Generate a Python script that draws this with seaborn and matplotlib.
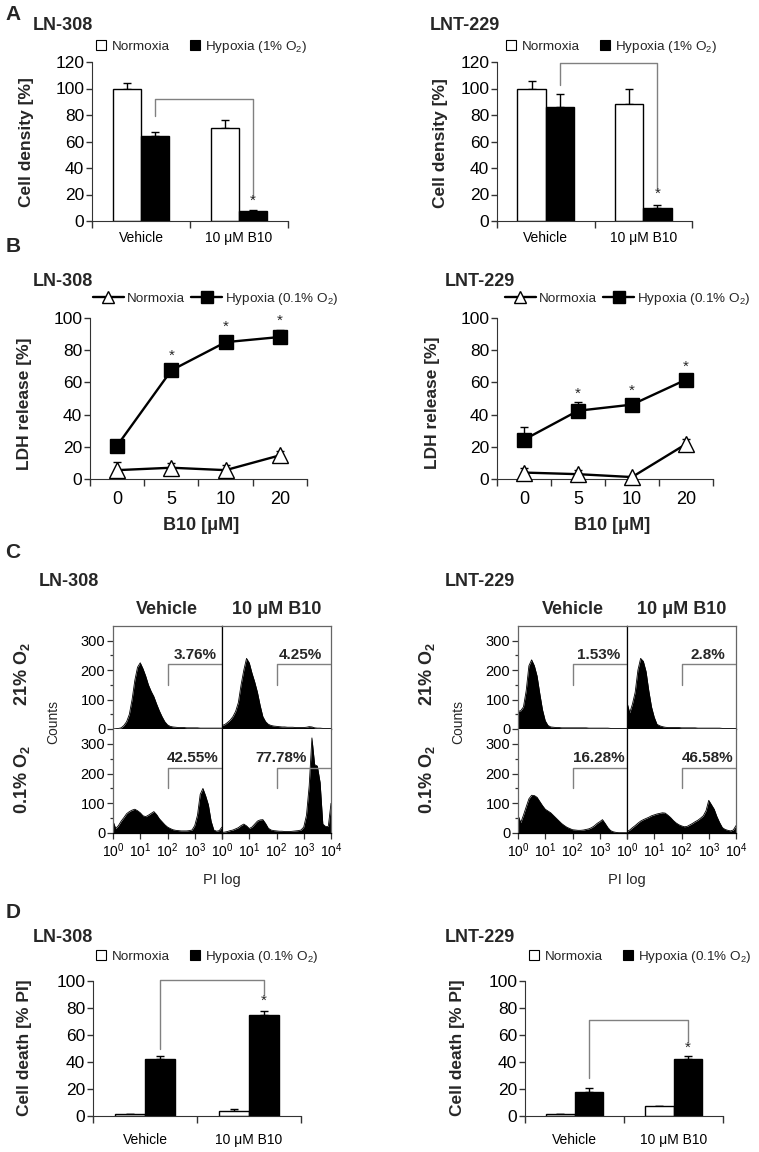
import numpy as np
import pandas as pd
import matplotlib
matplotlib.use('Agg')
import matplotlib.pyplot as plt
import seaborn as sns
from matplotlib.lines import Line2D

sns.set_style('ticks')
plt.rcParams['font.family'] = ['Liberation Sans', 'DejaVu Sans']
plt.rcParams['mathtext.default'] = 'regular'
plt.rcParams['axes.edgecolor'] = '#333333'
plt.rcParams['xtick.color'] = '#333333'
plt.rcParams['ytick.color'] = '#333333'
plt.rcParams['xtick.labelcolor'] = 'black'
plt.rcParams['ytick.labelcolor'] = 'black'

# ---------------- data ----------------
treatments = ['Vehicle', '10 μM B10']
conditions = ['Normoxia', 'Hypoxia']

# Panel A: cell density [%]
a_ln308_norm = [100, 70.5]
a_ln308_norm_err = [4, 6]
a_ln308_hyp = [64.5, 7.5]
a_ln308_hyp_err = [3, 1]
a_lnt229_norm = [100, 88]
a_lnt229_norm_err = [6, 12]
a_lnt229_hyp = [86, 10]
a_lnt229_hyp_err = [10, 2]

# Panel B: LDH release [%]
b10_doses = ['0', '5', '10', '20']
b_ln308_norm = [5.5, 7, 5.5, 14.7]
b_ln308_norm_err = [5, 2.7, 3, 2.5]
b_ln308_hyp = [20.7, 67.5, 85, 88.2]
b_ln308_hyp_err = [3, 1, 4, 4.5]
b_lnt229_norm = [4, 3, 1.2, 21.7]
b_lnt229_norm_err = [3, 2.7, 0.5, 3]
b_lnt229_hyp = [24.4, 42.4, 46.2, 61.7]
b_lnt229_hyp_err = [8, 5.4, 3, 2]

# Panel C: PI flow cytometry histograms (counts per log-PI channel, 10^0..10^4)
pi_log_channels = [i / 10 for i in range(41)]
c_ln308_veh_21 = [0, 1, 2, 4, 12, 25, 50, 100, 165, 210, 225, 205, 180, 150, 128, 110, 85, 62, 42, 25,
                  14, 9, 7, 6, 5, 5, 5, 4, 4, 4, 4, 4, 3, 3, 3, 3, 3, 3, 3, 3, 3]
c_ln308_b10_21 = [12, 15, 22, 30, 42, 60, 90, 150, 200, 240, 225, 190, 160, 125, 80, 42, 25, 16, 12, 10,
                  9, 8, 7, 7, 6, 6, 6, 5, 5, 5, 5, 6, 8, 7, 4, 3, 3, 2, 2, 2, 2]
c_ln308_veh_01 = [40, 15, 25, 40, 52, 65, 72, 77, 80, 75, 68, 58, 55, 60, 66, 72, 62, 48, 38, 28,
                  20, 15, 11, 9, 8, 7, 7, 7, 8, 10, 25, 60, 130, 150, 125, 95, 40, 10, 6, 8, 20]
c_ln308_b10_01 = [2, 3, 5, 8, 10, 14, 18, 25, 30, 24, 15, 20, 30, 40, 44, 45, 32, 16, 10, 8,
                  7, 6, 6, 5, 5, 5, 6, 7, 8, 10, 20, 60, 160, 320, 230, 225, 170, 30, 22, 22, 100]
c_lnt229_veh_21 = [60, 62, 75, 130, 215, 235, 215, 180, 120, 65, 28, 12, 7, 6, 5, 5, 4, 4, 4, 4,
                   4, 4, 4, 4, 4, 4, 3, 3, 3, 3, 3, 3, 3, 3, 2, 2, 2, 2, 2, 2, 2]
c_lnt229_b10_21 = [90, 55, 85, 125, 200, 240, 230, 195, 130, 75, 40, 16, 11, 8, 6, 5, 5, 5, 5, 5,
                   4, 4, 4, 4, 4, 4, 3, 3, 3, 3, 3, 3, 3, 3, 3, 2, 2, 2, 2, 2, 2]
c_lnt229_veh_01 = [60, 35, 60, 88, 115, 127, 126, 120, 106, 92, 80, 74, 68, 59, 50, 41, 32, 25, 19, 15,
                   11, 10, 9, 9, 10, 12, 14, 18, 24, 32, 38, 45, 32, 18, 8, 4, 2, 1, 1, 1, 1]
c_lnt229_b10_01 = [5, 10, 18, 25, 33, 40, 45, 49, 53, 58, 61, 64, 66, 68, 67, 60, 52, 42, 34, 28,
                   24, 21, 22, 27, 32, 38, 43, 50, 58, 75, 110, 95, 80, 55, 35, 18, 12, 9, 7, 10, 25]
c_ln308_pct = ['3.76%', '4.25%', '42.55%', '77.78%']
c_lnt229_pct = ['1.53%', '2.8%', '16.28%', '46.58%']

# Panel D: cell death [% PI]
d_ln308_norm = [1.5, 3.7]
d_ln308_norm_err = [0.3, 1.2]
d_ln308_hyp = [41.9, 75.1]
d_ln308_hyp_err = [2.2, 2.5]
d_lnt229_norm = [1.2, 7.4]
d_lnt229_norm_err = [0.4, 0]
d_lnt229_hyp = [18, 42.1]
d_lnt229_hyp_err = [2.4, 2.5]

# ---------------- helpers ----------------
W, H = 759, 1152
fig = plt.figure(figsize=(W / 100, H / 100), dpi=100)


def add_ax(l, t, r, b):
    return fig.add_axes([l / W, 1 - b / H, (r - l) / W, (b - t) / H])


def ftext(x, y, s, **kw):
    fig.text(x / W, 1 - y / H, s, **kw)


OFF = 0.145
BRACKET_C = '#808080'


def bar_panel(ax, norm, norm_err, hyp, hyp_err, ymax, ystep, bracket, star_y,
              ytick_size=12.5, xtick_pad=7):
    df = pd.DataFrame({'treatment': treatments * 2,
                       'condition': ['Normoxia'] * 2 + ['Hypoxia'] * 2,
                       'value': norm + hyp})
    sns.barplot(data=df, x='treatment', y='value', hue='condition', order=treatments,
                hue_order=conditions, palette={'Normoxia': 'white', 'Hypoxia': 'black'},
                edgecolor='black', linewidth=1, width=0.58, errorbar=None, legend=False,
                ax=ax, zorder=2)
    xs_n = [i - OFF for i in range(2)]
    xs_h = [i + OFF for i in range(2)]
    ax.errorbar(xs_n, norm, yerr=[[0, 0], norm_err], fmt='none', ecolor='black',
                elinewidth=1, capsize=3.2, capthick=1, zorder=1)
    ax.errorbar(xs_h, hyp, yerr=[[0, 0], hyp_err], fmt='none', ecolor='black',
                elinewidth=1, capsize=3.2, capthick=1, zorder=1)
    ax.set_xlim(-0.5, 1.5)
    ax.set_ylim(0, ymax)
    ax.set_yticks(np.arange(0, ymax + 1, ystep))
    ax.set_xticks([-0.5, 0.5, 1.5], minor=True)
    ax.tick_params(axis='x', which='major', length=0, pad=xtick_pad, labelsize=10)
    ax.tick_params(axis='x', which='minor', length=5, width=1)
    ax.tick_params(axis='y', length=4, width=1, pad=1.5, labelsize=ytick_size)
    ax.set_xlabel('')
    ax.set_ylabel('')
    sns.despine(ax=ax)
    y_top, y_left, y_right = bracket
    ax.plot([OFF, OFF, 1 + OFF, 1 + OFF], [y_left, y_top, y_top, y_right],
            color=BRACKET_C, lw=1, clip_on=False, zorder=3)
    ax.text(1 + OFF, star_y, '*', ha='center', va='center', fontsize=11)


def bar_legend(ax, x, y, hyp_label):
    handles = [Line2D([], [], ls='', marker='s', ms=7, mfc='white', mec='black', mew=0.8),
               Line2D([], [], ls='', marker='s', ms=7, mfc='black', mec='black', mew=0.8)]
    ax.legend(handles, ['Normoxia', hyp_label], loc='center left',
              bbox_to_anchor=(x / W, 1 - y / H), bbox_transform=fig.transFigure,
              ncol=2, frameon=False, fontsize=9.7, handlelength=0.8, handletextpad=0.35,
              columnspacing=1.5, borderpad=0, borderaxespad=0)


def line_panel(ax, norm, norm_err, hyp, hyp_err, star_ys):
    pos = list(range(len(b10_doses)))
    ax.errorbar(pos, hyp, yerr=[[0] * 4, hyp_err], fmt='none', ecolor='black',
                elinewidth=1, capsize=3.2, capthick=1, zorder=2)
    ax.errorbar(pos, norm, yerr=[[0] * 4, norm_err], fmt='none', ecolor='black',
                elinewidth=1, capsize=3.2, capthick=1, zorder=2)
    sns.lineplot(x=pos, y=hyp, ax=ax, color='black', lw=1.7, marker='s', markersize=10,
                 markerfacecolor='black', markeredgecolor='black', markeredgewidth=1,
                 zorder=3, clip_on=False)
    sns.lineplot(x=pos, y=norm, ax=ax, color='black', lw=1.7, marker='^', markersize=11,
                 markerfacecolor='white', markeredgecolor='black', markeredgewidth=1,
                 zorder=3, clip_on=False)
    for p, s in zip(pos[1:], star_ys):
        ax.text(p, s, '*', ha='center', va='center', fontsize=11)
    ax.set_xlim(-0.5, 3.5)
    ax.set_ylim(0, 100)
    ax.set_yticks(range(0, 101, 20))
    ax.set_xticks(pos)
    ax.set_xticklabels(b10_doses)
    ax.set_xticks([-0.5, 0.5, 1.5, 2.5, 3.5], minor=True)
    ax.tick_params(axis='x', which='major', length=0, pad=9, labelsize=13)
    ax.tick_params(axis='x', which='minor', length=5, width=1)
    ax.tick_params(axis='y', length=4, width=1, pad=1.5, labelsize=12.5)
    sns.despine(ax=ax)


def line_legend(ax, x, y):
    handles = [Line2D([], [], color='black', lw=1.7, marker='^', ms=9, mfc='white', mec='black'),
               Line2D([], [], color='black', lw=1.7, marker='s', ms=8, mfc='black', mec='black')]
    ax.legend(handles, ['Normoxia', 'Hypoxia (0.1% O$_2$)'], loc='center left',
              bbox_to_anchor=(x / W, 1 - y / H), bbox_transform=fig.transFigure,
              ncol=2, frameon=False, fontsize=9.7, handlelength=2.3, handletextpad=0.2,
              columnspacing=0.5, borderpad=0, borderaxespad=0)


def flow_block(left, mid, right, top, midy, bottom, hists, pcts, pct_logx):
    boxes = [(left, top, mid, midy), (mid, top, right, midy),
             (left, midy, mid, bottom), (mid, midy, right, bottom)]
    chans = [10 ** c for c in pi_log_channels]
    for k, ((l, t, r, b), counts) in enumerate(zip(boxes, hists)):
        ax = add_ax(l, t, r, b)
        ax.fill_between(chans, counts, color='black', lw=0)
        sns.lineplot(x=chans, y=counts, ax=ax, color='black', lw=0.6)
        ax.set_xscale('log')
        ax.set_xlim(1, 1e4)
        ax.set_ylim(0, 350)
        # gate
        ax.plot([100, 100, 1e4], [150, 220, 220], color=BRACKET_C, lw=1, zorder=3)
        ax.text(10 ** pct_logx[k], 253, pcts[k], ha='right', va='center',
                fontsize=11, fontweight='bold')
        for sp in ax.spines.values():
            sp.set_color('#666666')
            sp.set_linewidth(0.9)
        ax.spines['bottom'].set_color('black')
        if k in (1, 3):
            ax.spines['left'].set_color('black')
            ax.set_yticks([])
        else:
            ax.set_yticks([0, 100, 200, 300])
            ax.set_yticks([50, 150, 250], minor=True)
            ax.tick_params(axis='y', which='major', length=4, width=0.9, pad=1.5, labelsize=10.5)
            ax.tick_params(axis='y', which='minor', length=2.5, width=0.9)
        if k >= 2:
            ax.spines['top'].set_visible(False)
            decs = [1, 10, 100, 1000, 10000]
            ax.set_xticks(decs)
            ax.set_xticks([], minor=True)
            labs = ['$10^{%d}$' % i for i in range(5)]
            if k == 2:
                labs[4] = ''
            ax.set_xticklabels(labs)
            ax.tick_params(axis='x', which='major', length=4, width=0.9, pad=2, labelsize=10)
        else:
            ax.set_xticks([])
            ax.set_xticks([], minor=True)
        ax.set_xlabel('')
        ax.set_ylabel('')


# ---------------- Panel A ----------------
ax = add_ax(92, 62, 288, 221)
bar_panel(ax, a_ln308_norm, a_ln308_norm_err, a_ln308_hyp, a_ln308_hyp_err, 120, 20,
          (92, 79, 18), 15.5)
bar_legend(ax, 96, 47, 'Hypoxia (1% O$_2$)')
ax = add_ax(497, 62, 692, 221)
bar_panel(ax, a_lnt229_norm, a_lnt229_norm_err, a_lnt229_hyp, a_lnt229_hyp_err, 120, 20,
          (119.2, 103, 24.5), 20.5)
bar_legend(ax, 506, 47, 'Hypoxia (1% O$_2$)')

ftext(13, 15, 'A', fontsize=15, fontweight='bold', ha='center', va='center')
ftext(33, 25, 'LN-308', fontsize=13, fontweight='bold', ha='left', va='center')
ftext(430, 25, 'LNT-229', fontsize=13, fontweight='bold', ha='left', va='center')
ftext(27, 142, 'Cell density [%]', fontsize=12.5, fontweight='bold', rotation=90,
      ha='center', va='center')
ftext(440, 143, 'Cell density [%]', fontsize=12.5, fontweight='bold', rotation=90,
      ha='center', va='center')

# ---------------- Panel B ----------------
ax = add_ax(90, 318, 307, 479)
line_panel(ax, b_ln308_norm, b_ln308_norm_err, b_ln308_hyp, b_ln308_hyp_err, [76.6, 94.4, 98])
line_legend(ax, 93, 299)
ax = add_ax(497, 318, 713, 479)
line_panel(ax, b_lnt229_norm, b_lnt229_norm_err, b_lnt229_hyp, b_lnt229_hyp_err, [52.8, 54.9, 70])
line_legend(ax, 505, 299)

ftext(13, 247, 'B', fontsize=15, fontweight='bold', ha='center', va='center')
ftext(33, 282, 'LN-308', fontsize=13, fontweight='bold', ha='left', va='center')
ftext(445, 282, 'LNT-229', fontsize=13, fontweight='bold', ha='left', va='center')
ftext(25, 404, 'LDH release [%]', fontsize=12.5, fontweight='bold', rotation=90,
      ha='center', va='center')
ftext(433, 403, 'LDH release [%]', fontsize=12.5, fontweight='bold', rotation=90,
      ha='center', va='center')
ftext(201, 525, 'B10 [μM]', fontsize=13, fontweight='bold', ha='center', va='center')
ftext(612, 525, 'B10 [μM]', fontsize=13, fontweight='bold', ha='center', va='center')

# ---------------- Panel C ----------------
flow_block(113, 222, 331, 626, 729, 833,
           [c_ln308_veh_21, c_ln308_b10_21, c_ln308_veh_01, c_ln308_b10_01],
           c_ln308_pct, [3.82, 3.66, 3.86, 3.12])
flow_block(518, 627, 736, 626, 729, 833,
           [c_lnt229_veh_21, c_lnt229_b10_21, c_lnt229_veh_01, c_lnt229_b10_01],
           c_lnt229_pct, [3.76, 3.59, 3.92, 3.92])

ftext(13, 553, 'C', fontsize=15, fontweight='bold', ha='center', va='center')
ftext(39, 582, 'LN-308', fontsize=13, fontweight='bold', ha='left', va='center')
ftext(445, 582, 'LNT-229', fontsize=13, fontweight='bold', ha='left', va='center')
for xv, xb in ((167, 277), (573, 682)):
    ftext(xv, 609, 'Vehicle', fontsize=13, fontweight='bold', ha='center', va='center')
    ftext(xb, 609, '10 μM B10', fontsize=13, fontweight='bold', ha='center', va='center')
for xr, xc in ((22, 53), (427, 458)):
    ftext(xr, 642, '21% O$_2$', fontsize=13, fontweight='bold', rotation=90,
          ha='center', va='top')
    ftext(xr, 745, '0.1% O$_2$', fontsize=13, fontweight='bold', rotation=90,
          ha='center', va='top')
    ftext(xc, 722, 'Counts', fontsize=10, rotation=90, ha='center', va='center')
ftext(222, 880, 'PI log', fontsize=10.5, ha='center', va='center')
ftext(627, 880, 'PI log', fontsize=10.5, ha='center', va='center')

# ---------------- Panel D ----------------
ax = add_ax(93, 981, 301, 1116)
bar_panel(ax, d_ln308_norm, d_ln308_norm_err, d_ln308_hyp, d_ln308_hyp_err, 100, 20,
          (101, 50, 90), 85.7, xtick_pad=12)
bar_legend(ax, 96, 957, 'Hypoxia (0.1% O$_2$)')
ax = add_ax(525, 981, 723, 1116)
bar_panel(ax, d_lnt229_norm, d_lnt229_norm_err, d_lnt229_hyp, d_lnt229_hyp_err, 100, 20,
          (70.9, 27.8, 54.9), 50.5, xtick_pad=12)
bar_legend(ax, 529, 957, 'Hypoxia (0.1% O$_2$)')

ftext(13, 913, 'D', fontsize=15, fontweight='bold', ha='center', va='center')
ftext(33, 937, 'LN-308', fontsize=13, fontweight='bold', ha='left', va='center')
ftext(445, 937, 'LNT-229', fontsize=13, fontweight='bold', ha='left', va='center')
ftext(25, 1048, 'Cell death [% PI]', fontsize=12.5, fontweight='bold', rotation=90,
      ha='center', va='center')
ftext(457, 1048, 'Cell death [% PI]', fontsize=12.5, fontweight='bold', rotation=90,
      ha='center', va='center')

fig.savefig('out.png', dpi=100, facecolor='white')
